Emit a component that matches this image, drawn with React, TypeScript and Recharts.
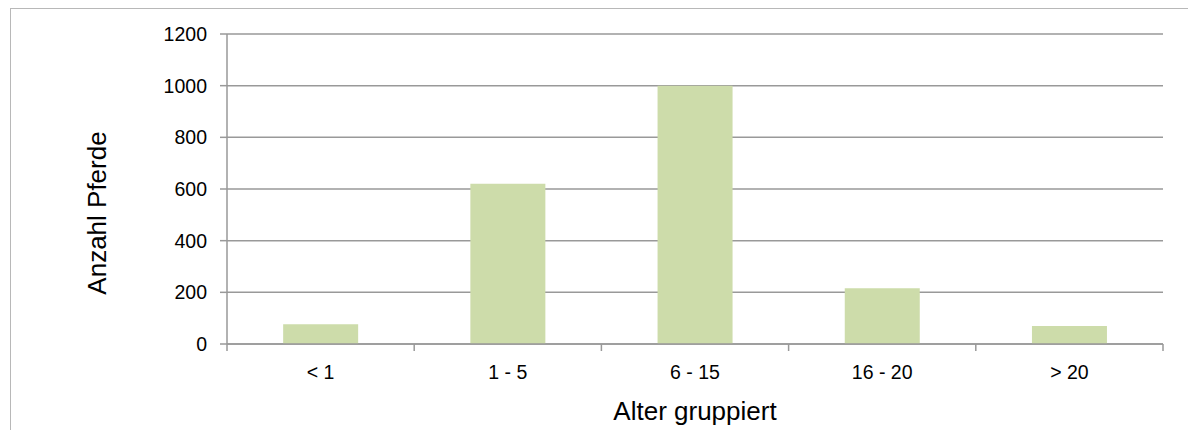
import React from "react"
import { BarChart, Bar, XAxis, YAxis, CartesianGrid, Label } from "recharts"

const ageGroups = ["< 1", "1 - 5", "6 - 15", "16 - 20", "> 20"]
const horseCounts = [76, 620, 1000, 216, 70]
const countTicks = [0, 200, 400, 600, 800, 1000, 1200]

const data = ageGroups.map((group, i) => ({ group, count: horseCounts[i] }))

const FONT = "'Liberation Sans', Arial, sans-serif"
const GRID = "#999999"

// category label centred in the band, tick marks on the band edges
function AgeTick(props: any) {
  const { x, y, payload, index, visibleTicksCount } = props
  const half = payload.offset ?? 0
  const isLast = index === visibleTicksCount - 1
  return (
    <g>
      <line x1={x - half} x2={x - half} y1={y} y2={y + 7} stroke={GRID} strokeWidth={1.5} />
      {isLast && <line x1={x + half} x2={x + half} y1={y} y2={y + 7} stroke={GRID} strokeWidth={1.5} />}
      <text x={x} y={y + 35} textAnchor="middle" fill="#000" fontSize={19.5} fontFamily={FONT}>
        {payload.value}
      </text>
    </g>
  )
}

export default function App() {
  return (
    <div
      style={{
        position: "absolute",
        left: 0,
        top: 0,
        width: 1188,
        height: 430,
        overflow: "hidden",
        background: "#fff",
      }}
    >
      <div
        style={{
          position: "absolute",
          left: 10,
          top: 8,
          width: 2000,
          height: 1000,
          border: "1px solid #b8b8b8",
        }}
      />
      <div style={{ position: "absolute", left: 0, top: 0 }}>
        <BarChart width={1188} height={430} data={data} margin={{ top: 34, right: 25, bottom: 0, left: 0 }} barCategoryGap="30%">
          <CartesianGrid horizontal vertical={false} stroke={GRID} strokeWidth={1.5} />
          <XAxis
            dataKey="group"
            height={86}
            axisLine={{ stroke: GRID, strokeWidth: 1.5 }}
            tickLine={false}
            tickSize={0}
            tickMargin={0}
            tick={<AgeTick />}
            interval={0}
          >
            <Label
              content={({ viewBox }: any) => (
                <text
                  x={viewBox.x + viewBox.width / 2}
                  y={viewBox.y + 76}
                  textAnchor="middle"
                  fill="#000"
                  fontSize={26}
                  fontFamily={FONT}
                >
                  Alter gruppiert
                </text>
              )}
            />
          </XAxis>
          <YAxis
            width={227}
            domain={[0, 1200]}
            ticks={countTicks}
            interval={0}
            axisLine={{ stroke: GRID, strokeWidth: 1.5 }}
            tickLine={{ stroke: GRID, strokeWidth: 1.5 }}
            tickSize={7}
            tickMargin={13}
            tick={{ fill: "#000", fontSize: 19.5, fontFamily: FONT }}
          >
            <Label
              content={({ viewBox }: any) => (
                <text
                  x={106}
                  y={viewBox.y + viewBox.height / 2 + 24}
                  transform={`rotate(-90 106 ${viewBox.y + viewBox.height / 2 + 24})`}
                  textAnchor="middle"
                  fill="#000"
                  fontSize={26}
                  fontFamily={FONT}
                >
                  Anzahl Pferde
                </text>
              )}
            />
          </YAxis>
          <Bar dataKey="count" fill="#cddcaa" isAnimationActive={false} />
        </BarChart>
      </div>
    </div>
  )
}
